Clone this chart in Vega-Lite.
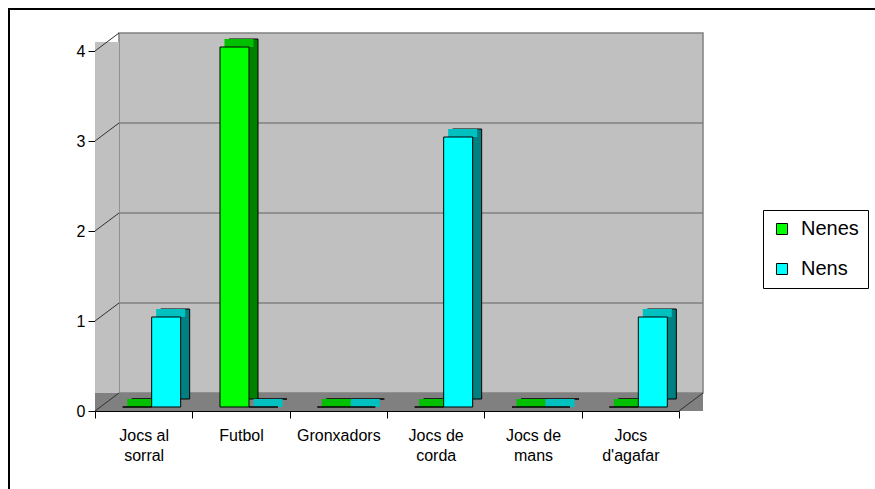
{
  "$schema": "https://vega.github.io/schema/vega-lite/v6.json",
  "autosize": {"type": "none"},
  "padding": {"left": 9, "top": 9, "right": 0, "bottom": 0},
  "width": 870,
  "height": 485,
  "background": "white",
  "config": {
    "view": {"stroke": "black", "strokeWidth": 2, "fill": "white"},
    "font": "Liberation Sans",
    "axis": {"labelFont": "Liberation Sans", "labelFontSize": 16, "labelColor": "black", "domainColor": "black", "tickColor": "black", "grid": false, "zindex": 1},
    "axisY": {"offset": -86, "tickSize": 7, "labelPadding": 3, "tickCount": 4},
    "axisX": {"offset": -83, "tickSize": 7, "labelPadding": 9, "tickBand": "extent", "labelAngle": 0, "labelLineHeight": 20},
    "legend": {"symbolType": "square", "symbolSize": 121, "symbolStrokeColor": "black", "symbolStrokeWidth": 1, "labelFont": "Liberation Sans", "labelFontSize": 20, "labelColor": "black", "labelOffset": 9, "strokeColor": "black", "padding": 9, "rowPadding": 20}
  },
  "datasets": {
    "jocs": [
      {"joc": "Jocs al sorral", "grup": "Nenes", "valor": 0},
      {"joc": "Jocs al sorral", "grup": "Nens", "valor": 1},
      {"joc": "Futbol", "grup": "Nenes", "valor": 4},
      {"joc": "Futbol", "grup": "Nens", "valor": 0},
      {"joc": "Gronxadors", "grup": "Nenes", "valor": 0},
      {"joc": "Gronxadors", "grup": "Nens", "valor": 0},
      {"joc": "Jocs de corda", "grup": "Nenes", "valor": 0},
      {"joc": "Jocs de corda", "grup": "Nens", "valor": 3},
      {"joc": "Jocs de mans", "grup": "Nenes", "valor": 0},
      {"joc": "Jocs de mans", "grup": "Nens", "valor": 0},
      {"joc": "Jocs d'agafar", "grup": "Nenes", "valor": 0},
      {"joc": "Jocs d'agafar", "grup": "Nens", "valor": 1}
    ],
    "nivells": [{"v": 0}, {"v": 1}, {"v": 2}, {"v": 3}, {"v": 4}]
  },
  "layer": [
    {
      "data": {"values": [{}]},
      "mark": {"type": "rect", "fill": "#c0c0c0", "stroke": "#808080", "strokeWidth": 1.5, "xOffset": 24, "x2Offset": 24, "yOffset": -18, "y2Offset": -18},
      "encoding": {
        "x": {"datum": 0, "type": "quantitative", "scale": {"domain": [0, 6], "range": [86, 670], "nice": false, "zero": false}, "axis": null},
        "x2": {"datum": 6},
        "y": {"datum": 0, "type": "quantitative", "scale": {"domain": [0, 4], "range": [402, 42], "nice": false, "zero": false}, "title": null},
        "y2": {"datum": 4}
      }
    },
    {
      "data": {"values": [{}]},
      "mark": {"type": "rect", "fill": "#c0c0c0", "x2Offset": 24, "y2Offset": -9},
      "encoding": {
        "x": {"datum": 0, "type": "quantitative", "scale": {"domain": [0, 6], "range": [86, 670], "nice": false, "zero": false}, "axis": null},
        "x2": {"datum": 0},
        "y": {"datum": 0, "type": "quantitative", "scale": {"domain": [0, 4], "range": [402, 42], "nice": false, "zero": false}, "title": null},
        "y2": {"datum": 4}
      }
    },
    {
      "data": {"values": [{}]},
      "mark": {"type": "rect", "fill": "#808080", "x2Offset": 24, "y2Offset": -18},
      "encoding": {
        "x": {"datum": 0, "type": "quantitative", "scale": {"domain": [0, 6], "range": [86, 670], "nice": false, "zero": false}, "axis": null},
        "x2": {"datum": 6},
        "y": {"datum": 0, "type": "quantitative", "scale": {"domain": [0, 4], "range": [402, 42], "nice": false, "zero": false}, "title": null},
        "y2": {"datum": 0}
      }
    },
    {
      "data": {"name": "nivells"},
      "mark": {"type": "rule", "color": "#303030", "strokeWidth": 1, "x2Offset": 24, "y2Offset": -18},
      "encoding": {
        "x": {"datum": 0, "type": "quantitative", "scale": {"domain": [0, 6], "range": [86, 670], "nice": false, "zero": false}, "axis": null},
        "x2": {"datum": 0},
        "y": {"field": "v", "type": "quantitative", "scale": {"domain": [0, 4], "range": [402, 42], "nice": false, "zero": false}, "title": null},
        "y2": {"field": "v"}
      }
    },
    {
      "data": {"name": "nivells"},
      "transform": [{"filter": "datum.v > 0 && datum.v < 4"}],
      "mark": {"type": "rule", "color": "#808080", "strokeWidth": 1.5, "xOffset": 24, "x2Offset": 24, "yOffset": -18},
      "encoding": {
        "x": {"datum": 0, "type": "quantitative", "scale": {"domain": [0, 6], "range": [86, 670], "nice": false, "zero": false}, "axis": null},
        "x2": {"datum": 6},
        "y": {"field": "v", "type": "quantitative", "scale": {"domain": [0, 4], "range": [402, 42], "nice": false, "zero": false}, "title": null}
      }
    },
    {
      "data": {"values": [{}]},
      "mark": {"type": "rule", "color": "#303030", "strokeWidth": 1, "x2Offset": 24, "y2Offset": -18},
      "encoding": {
        "x": {"datum": 6, "type": "quantitative", "scale": {"domain": [0, 6], "range": [86, 670], "nice": false, "zero": false}, "axis": null},
        "x2": {"datum": 6},
        "y": {"datum": 0, "type": "quantitative", "scale": {"domain": [0, 4], "range": [402, 42], "nice": false, "zero": false}, "title": null},
        "y2": {"datum": 0}
      }
    },
    {
      "data": {"name": "jocs"},
      "transform": [{"filter": "datum.grup === 'Nenes'"}],
      "mark": {"type": "bar", "width": 29, "xOffset": 2.5, "yOffset": -12, "y2Offset": -12, "fill": "#008000", "stroke": "black", "strokeWidth": 1},
      "encoding": {
        "x": {"field": "joc", "type": "nominal", "scale": {"domain": ["Jocs al sorral", "Futbol", "Gronxadors", "Jocs de corda", "Jocs de mans", "Jocs d'agafar"], "range": [86, 670], "paddingInner": 0, "paddingOuter": 0}, "axis": null},
        "y": {"field": "valor", "type": "quantitative", "stack": null, "scale": {"domain": [0, 4], "range": [402, 42], "nice": false, "zero": false}, "title": null},
        "y2": {"datum": 0}
      }
    },
    {
      "data": {"name": "jocs"},
      "transform": [{"filter": "datum.grup === 'Nens'"}],
      "mark": {"type": "bar", "width": 29, "xOffset": 31.5, "yOffset": -12, "y2Offset": -12, "fill": "#008080", "stroke": "black", "strokeWidth": 1},
      "encoding": {
        "x": {"field": "joc", "type": "nominal", "scale": {"domain": ["Jocs al sorral", "Futbol", "Gronxadors", "Jocs de corda", "Jocs de mans", "Jocs d'agafar"], "range": [86, 670], "paddingInner": 0, "paddingOuter": 0}, "axis": null},
        "y": {"field": "valor", "type": "quantitative", "stack": null, "scale": {"domain": [0, 4], "range": [402, 42], "nice": false, "zero": false}, "title": null},
        "y2": {"datum": 0}
      }
    },
    {
      "data": {"name": "jocs"},
      "transform": [{"filter": "datum.grup === 'Nenes'"}],
      "mark": {"type": "bar", "width": 29, "xOffset": -2, "yOffset": -12, "y2Offset": -4, "fill": "#00c000"},
      "encoding": {
        "x": {"field": "joc", "type": "nominal", "scale": {"domain": ["Jocs al sorral", "Futbol", "Gronxadors", "Jocs de corda", "Jocs de mans", "Jocs d'agafar"], "range": [86, 670], "paddingInner": 0, "paddingOuter": 0}, "axis": null},
        "y": {"field": "valor", "type": "quantitative", "stack": null, "scale": {"domain": [0, 4], "range": [402, 42], "nice": false, "zero": false}, "title": null},
        "y2": {"field": "valor"}
      }
    },
    {
      "data": {"name": "jocs"},
      "transform": [{"filter": "datum.grup === 'Nens'"}],
      "mark": {"type": "bar", "width": 29, "xOffset": 27, "yOffset": -12, "y2Offset": -4, "fill": "#00c0c0"},
      "encoding": {
        "x": {"field": "joc", "type": "nominal", "scale": {"domain": ["Jocs al sorral", "Futbol", "Gronxadors", "Jocs de corda", "Jocs de mans", "Jocs d'agafar"], "range": [86, 670], "paddingInner": 0, "paddingOuter": 0}, "axis": null},
        "y": {"field": "valor", "type": "quantitative", "stack": null, "scale": {"domain": [0, 4], "range": [402, 42], "nice": false, "zero": false}, "title": null},
        "y2": {"field": "valor"}
      }
    },
    {
      "data": {"name": "jocs"},
      "transform": [{"filter": "datum.grup === 'Nenes'"}],
      "mark": {"type": "bar", "width": 29, "xOffset": -6.5, "yOffset": -4, "y2Offset": -4, "stroke": "black", "strokeWidth": 1},
      "encoding": {
        "x": {"field": "joc", "type": "nominal", "scale": {"domain": ["Jocs al sorral", "Futbol", "Gronxadors", "Jocs de corda", "Jocs de mans", "Jocs d'agafar"], "range": [86, 670], "paddingInner": 0, "paddingOuter": 0}, "axis": null},
        "y": {"field": "valor", "type": "quantitative", "stack": null, "scale": {"domain": [0, 4], "range": [402, 42], "nice": false, "zero": false}, "title": null},
        "y2": {"datum": 0},
        "color": {"field": "grup", "type": "nominal", "scale": {"domain": ["Nenes", "Nens"], "range": ["#00ff00", "#00ffff"]}, "legend": {"orient": "none", "legendX": 754, "legendY": 201, "title": null}}
      }
    },
    {
      "data": {"name": "jocs"},
      "transform": [{"filter": "datum.grup === 'Nens'"}],
      "mark": {"type": "bar", "width": 29, "xOffset": 22.5, "yOffset": -4, "y2Offset": -4, "stroke": "black", "strokeWidth": 1},
      "encoding": {
        "x": {"field": "joc", "type": "nominal", "scale": {"domain": ["Jocs al sorral", "Futbol", "Gronxadors", "Jocs de corda", "Jocs de mans", "Jocs d'agafar"], "range": [86, 670], "paddingInner": 0, "paddingOuter": 0}, "axis": {"title": null, "labelExpr": "lastindexof(datum.label, ' ') > 0 ? [substring(datum.label, 0, lastindexof(datum.label, ' ')), substring(datum.label, lastindexof(datum.label, ' ') + 1)] : datum.label"}},
        "y": {"field": "valor", "type": "quantitative", "stack": null, "scale": {"domain": [0, 4], "range": [402, 42], "nice": false, "zero": false}, "title": null},
        "y2": {"datum": 0},
        "color": {"field": "grup", "type": "nominal", "scale": {"domain": ["Nenes", "Nens"], "range": ["#00ff00", "#00ffff"]}, "legend": {"orient": "none", "legendX": 754, "legendY": 201, "title": null}}
      }
    }
  ],
  "resolve": {"scale": {"x": "independent"}}
}
